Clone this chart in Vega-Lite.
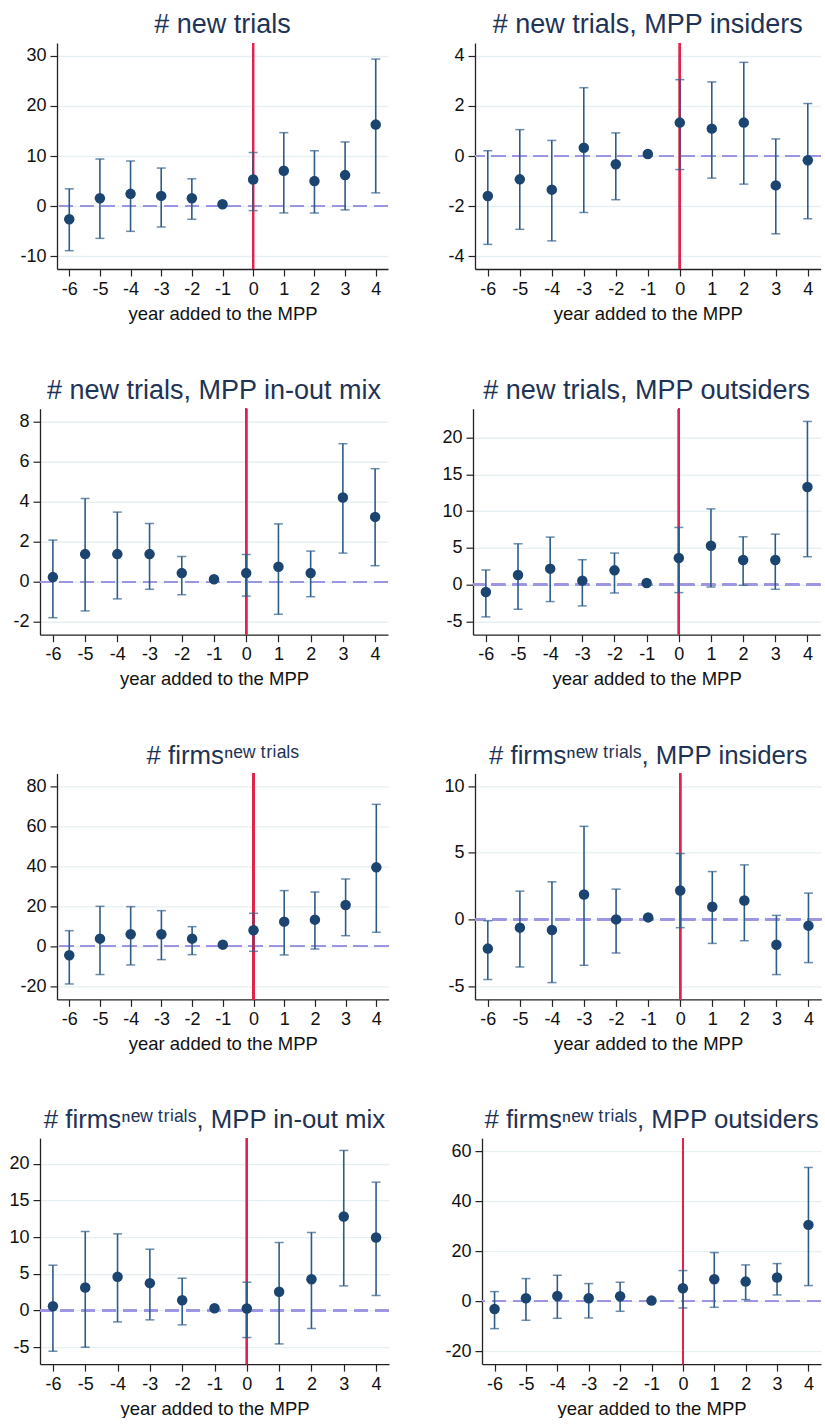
{
  "$schema": "https://vega.github.io/schema/vega-lite/v6.json",
  "padding": {"left": 5, "top": 11, "right": 0, "bottom": 0},
  "background": "white",
  "config": {
    "view": {"stroke": null},
    "font": "Liberation Sans",
    "title": {"fontSize": 27, "font": "Liberation Sans, Noto Sans", "fontWeight": "normal", "color": "#1e3355", "offset": 3, "baseline": "alphabetic", "anchor": "middle"},
    "axis": {"domainColor": "#222222", "domainWidth": 1.3, "tickColor": "#222222", "tickWidth": 1.2, "tickSize": 7, "labelColor": "#111111", "labelFont": "Liberation Sans", "labelFontSize": 18, "labelPadding": 4, "titleFont": "Liberation Sans", "titleFontSize": 18.5, "titleFontWeight": "normal", "titleColor": "#111111", "titlePadding": 6, "labelFlush": false, "labelOverlap": false},
    "axisX": {"grid": false},
    "axisY": {"grid": true, "gridColor": "#e6eff2", "gridWidth": 1.4}
  },
  "datasets": {
    "p1": [
      {"year": -6, "est": -2.6, "lo": -8.85, "hi": 3.46},
      {"year": -5, "est": 1.6, "lo": -6.4, "hi": 9.4},
      {"year": -4, "est": 2.46, "lo": -5.0, "hi": 9.0},
      {"year": -3, "est": 2.06, "lo": -4.13, "hi": 7.6},
      {"year": -2, "est": 1.6, "lo": -2.6, "hi": 5.46},
      {"year": -1, "est": 0.4, "lo": null, "hi": null},
      {"year": 0, "est": 5.33, "lo": -0.87, "hi": 10.7},
      {"year": 1, "est": 7.06, "lo": -1.33, "hi": 14.65},
      {"year": 2, "est": 5.0, "lo": -1.33, "hi": 11.05},
      {"year": 3, "est": 6.2, "lo": -0.73, "hi": 12.8},
      {"year": 4, "est": 16.25, "lo": 2.66, "hi": 29.3}
    ],
    "p2": [
      {"year": -6, "est": -1.59, "lo": -3.52, "hi": 0.21},
      {"year": -5, "est": -0.93, "lo": -2.92, "hi": 1.05},
      {"year": -4, "est": -1.34, "lo": -3.38, "hi": 0.62},
      {"year": -3, "est": 0.33, "lo": -2.25, "hi": 2.72},
      {"year": -2, "est": -0.33, "lo": -1.74, "hi": 0.92},
      {"year": -1, "est": 0.08, "lo": null, "hi": null},
      {"year": 0, "est": 1.33, "lo": -0.54, "hi": 3.04},
      {"year": 1, "est": 1.09, "lo": -0.88, "hi": 2.95},
      {"year": 2, "est": 1.33, "lo": -1.12, "hi": 3.73},
      {"year": 3, "est": -1.17, "lo": -3.1, "hi": 0.68},
      {"year": 4, "est": -0.17, "lo": -2.5, "hi": 2.09}
    ],
    "p3": [
      {"year": -6, "est": 0.23, "lo": -1.8, "hi": 2.08},
      {"year": -5, "est": 1.38, "lo": -1.46, "hi": 4.16},
      {"year": -4, "est": 1.38, "lo": -0.86, "hi": 3.48},
      {"year": -3, "est": 1.38, "lo": -0.38, "hi": 2.91},
      {"year": -2, "est": 0.43, "lo": -0.65, "hi": 1.26},
      {"year": -1, "est": 0.12, "lo": null, "hi": null},
      {"year": 0, "est": 0.43, "lo": -0.72, "hi": 1.36},
      {"year": 1, "est": 0.75, "lo": -1.63, "hi": 2.89},
      {"year": 2, "est": 0.43, "lo": -0.75, "hi": 1.53},
      {"year": 3, "est": 4.21, "lo": 1.43, "hi": 6.9},
      {"year": 4, "est": 3.24, "lo": 0.8, "hi": 5.65}
    ],
    "p4": [
      {"year": -6, "est": -0.99, "lo": -4.38, "hi": 1.99},
      {"year": -5, "est": 1.31, "lo": -3.34, "hi": 5.55},
      {"year": -4, "est": 2.17, "lo": -2.3, "hi": 6.46},
      {"year": -3, "est": 0.54, "lo": -2.89, "hi": 3.39},
      {"year": -2, "est": 1.94, "lo": -1.13, "hi": 4.29},
      {"year": -1, "est": 0.23, "lo": null, "hi": null},
      {"year": 0, "est": 3.61, "lo": -1.08, "hi": 7.77},
      {"year": 1, "est": 5.28, "lo": -0.32, "hi": 10.29},
      {"year": 2, "est": 3.34, "lo": -0.09, "hi": 6.5},
      {"year": 3, "est": 3.34, "lo": -0.63, "hi": 6.86},
      {"year": 4, "est": 13.27, "lo": 3.79, "hi": 22.17}
    ],
    "p5": [
      {"year": -6, "est": -4.49, "lo": -18.8, "hi": 7.8},
      {"year": -5, "est": 3.83, "lo": -14.1, "hi": 19.96},
      {"year": -4, "est": 5.99, "lo": -9.3, "hi": 19.8},
      {"year": -3, "est": 5.99, "lo": -6.65, "hi": 17.8},
      {"year": -2, "est": 3.83, "lo": -4.16, "hi": 9.8},
      {"year": -1, "est": 0.83, "lo": null, "hi": null},
      {"year": 0, "est": 7.98, "lo": -2.49, "hi": 16.47},
      {"year": 1, "est": 12.3, "lo": -4.3, "hi": 27.8},
      {"year": 2, "est": 13.3, "lo": -1.33, "hi": 27.1},
      {"year": 3, "est": 20.6, "lo": 5.3, "hi": 33.6},
      {"year": 4, "est": 39.4, "lo": 7.0, "hi": 70.85}
    ],
    "p6": [
      {"year": -6, "est": -2.19, "lo": -4.51, "hi": -0.1},
      {"year": -5, "est": -0.62, "lo": -3.57, "hi": 2.12},
      {"year": -4, "est": -0.8, "lo": -4.74, "hi": 2.82},
      {"year": -3, "est": 1.87, "lo": -3.44, "hi": 6.98},
      {"year": -2, "est": 0.0, "lo": -2.52, "hi": 2.27},
      {"year": -1, "est": 0.15, "lo": null, "hi": null},
      {"year": 0, "est": 2.17, "lo": -0.62, "hi": 4.94},
      {"year": 1, "est": 0.95, "lo": -1.8, "hi": 3.59},
      {"year": 2, "est": 1.42, "lo": -1.6, "hi": 4.09},
      {"year": 3, "est": -1.9, "lo": -4.14, "hi": 0.3},
      {"year": 4, "est": -0.47, "lo": -3.24, "hi": 1.97}
    ],
    "p7": [
      {"year": -6, "est": 0.59, "lo": -5.55, "hi": 6.18},
      {"year": -5, "est": 3.14, "lo": -5.0, "hi": 10.77},
      {"year": -4, "est": 4.59, "lo": -1.55, "hi": 10.45},
      {"year": -3, "est": 3.73, "lo": -1.27, "hi": 8.36},
      {"year": -2, "est": 1.41, "lo": -1.95, "hi": 4.41},
      {"year": -1, "est": 0.32, "lo": null, "hi": null},
      {"year": 0, "est": 0.27, "lo": -3.68, "hi": 3.86},
      {"year": 1, "est": 2.55, "lo": -4.55, "hi": 9.27},
      {"year": 2, "est": 4.27, "lo": -2.45, "hi": 10.64},
      {"year": 3, "est": 12.82, "lo": 3.36, "hi": 21.82},
      {"year": 4, "est": 9.95, "lo": 2.05, "hi": 17.5}
    ],
    "p8": [
      {"year": -6, "est": -3.07, "lo": -10.93, "hi": 3.87},
      {"year": -5, "est": 1.2, "lo": -7.6, "hi": 9.07},
      {"year": -4, "est": 2.13, "lo": -6.8, "hi": 10.4},
      {"year": -3, "est": 1.2, "lo": -6.67, "hi": 7.07},
      {"year": -2, "est": 2.0, "lo": -4.0, "hi": 7.6},
      {"year": -1, "est": 0.27, "lo": null, "hi": null},
      {"year": 0, "est": 5.2, "lo": -2.67, "hi": 12.27},
      {"year": 1, "est": 8.8, "lo": -2.4, "hi": 19.47},
      {"year": 2, "est": 7.87, "lo": 0.67, "hi": 14.53},
      {"year": 3, "est": 9.47, "lo": 2.53, "hi": 15.07},
      {"year": 4, "est": 30.53, "lo": 6.27, "hi": 53.47}
    ]
  },
  "spacing": 53.7,
  "vconcat": [
    {
      "spacing": 0,
      "hconcat": [
        {"width": 12, "height": 10, "data": {"values": []}, "mark": {"type": "point", "opacity": 0}},
        {
          "width": 331, "height": 226,
          "title": {"text": "# new trials"},
          "data": {"name": "p1"},
          "layer": [
            {"mark": {"type": "rule", "color": "#9d95e2", "strokeWidth": 1.6, "strokeDash": [14, 7]}, "encoding": {"y": {"datum": 0}}},
            {"mark": {"type": "rule", "color": "#e2234d", "strokeWidth": 1.8}, "encoding": {"x": {"datum": 0}}},
            {"transform": [{"filter": "datum.lo != null"}], "mark": {"type": "errorbar", "ticks": {"size": 9, "thickness": 1.5, "color": "#2e5c88"}, "rule": {"strokeWidth": 1.6, "color": "#2e5c88"}}, "encoding": {
              "x": {"field": "year", "type": "quantitative", "scale": {"domain": [-6.4, 4.4], "nice": false, "zero": false}, "axis": {"values": [-6, -5, -4, -3, -2, -1, 0, 1, 2, 3, 4], "tickCount": 11, "title": "year added to the MPP", "grid": false, "labelOverlap": false, "labelFlush": false, "labelExpr": "'' + datum.value"}},
              "y": {"field": "lo", "type": "quantitative", "scale": {"domain": [-12.5, 32.5], "nice": false, "zero": false}, "axis": {"values": [-10, 0, 10, 20, 30], "title": null, "grid": true, "labelOverlap": false, "minExtent": 40, "maxExtent": 40, "labelExpr": "'' + datum.value"}},
              "y2": {"field": "hi"}}},
            {"mark": {"type": "circle", "size": 110, "color": "#1b4570", "opacity": 1}, "encoding": {
              "x": {"field": "year", "type": "quantitative", "scale": {"domain": [-6.4, 4.4], "nice": false, "zero": false}, "axis": {"values": [-6, -5, -4, -3, -2, -1, 0, 1, 2, 3, 4], "tickCount": 11, "title": "year added to the MPP", "grid": false, "labelOverlap": false, "labelFlush": false, "labelExpr": "'' + datum.value"}},
              "y": {"field": "est", "type": "quantitative", "scale": {"domain": [-12.5, 32.5], "nice": false, "zero": false}, "axis": {"values": [-10, 0, 10, 20, 30], "title": null, "grid": true, "labelOverlap": false, "minExtent": 40, "maxExtent": 40, "labelExpr": "'' + datum.value"}}
            }}
          ]
        },
        {
          "width": 345.6, "height": 226,
          "title": {"text": "# new trials, MPP insiders"},
          "data": {"name": "p2"},
          "layer": [
            {"mark": {"type": "rule", "color": "#9d95e2", "strokeWidth": 1.6, "strokeDash": [14, 7]}, "encoding": {"y": {"datum": 0}}},
            {"mark": {"type": "rule", "color": "#e2234d", "strokeWidth": 1.8}, "encoding": {"x": {"datum": 0}}},
            {"transform": [{"filter": "datum.lo != null"}], "mark": {"type": "errorbar", "ticks": {"size": 9, "thickness": 1.5, "color": "#2e5c88"}, "rule": {"strokeWidth": 1.6, "color": "#2e5c88"}}, "encoding": {
              "x": {"field": "year", "type": "quantitative", "scale": {"domain": [-6.4, 4.4], "nice": false, "zero": false}, "axis": {"values": [-6, -5, -4, -3, -2, -1, 0, 1, 2, 3, 4], "tickCount": 11, "title": "year added to the MPP", "grid": false, "labelOverlap": false, "labelFlush": false, "labelExpr": "'' + datum.value"}},
              "y": {"field": "lo", "type": "quantitative", "scale": {"domain": [-4.5, 4.5], "nice": false, "zero": false}, "axis": {"values": [-4, -2, 0, 2, 4], "title": null, "grid": true, "labelOverlap": false, "minExtent": 85.7, "maxExtent": 85.7, "labelExpr": "'' + datum.value"}},
              "y2": {"field": "hi"}}},
            {"mark": {"type": "circle", "size": 110, "color": "#1b4570", "opacity": 1}, "encoding": {
              "x": {"field": "year", "type": "quantitative", "scale": {"domain": [-6.4, 4.4], "nice": false, "zero": false}, "axis": {"values": [-6, -5, -4, -3, -2, -1, 0, 1, 2, 3, 4], "tickCount": 11, "title": "year added to the MPP", "grid": false, "labelOverlap": false, "labelFlush": false, "labelExpr": "'' + datum.value"}},
              "y": {"field": "est", "type": "quantitative", "scale": {"domain": [-4.5, 4.5], "nice": false, "zero": false}, "axis": {"values": [-4, -2, 0, 2, 4], "title": null, "grid": true, "labelOverlap": false, "minExtent": 85.7, "maxExtent": 85.7, "labelExpr": "'' + datum.value"}}
            }}
          ]
        }
      ]
    },
    {
      "spacing": 0,
      "hconcat": [
        {"width": 2, "height": 10, "data": {"values": []}, "mark": {"type": "point", "opacity": 0}},
        {
          "width": 348, "height": 226,
          "title": {"text": "# new trials, MPP in-out mix"},
          "data": {"name": "p3"},
          "layer": [
            {"mark": {"type": "rule", "color": "#9d95e2", "strokeWidth": 1.6, "strokeDash": [14, 7]}, "encoding": {"y": {"datum": 0}}},
            {"mark": {"type": "rule", "color": "#e2234d", "strokeWidth": 1.8}, "encoding": {"x": {"datum": 0}}},
            {"transform": [{"filter": "datum.lo != null"}], "mark": {"type": "errorbar", "ticks": {"size": 9, "thickness": 1.5, "color": "#2e5c88"}, "rule": {"strokeWidth": 1.6, "color": "#2e5c88"}}, "encoding": {
              "x": {"field": "year", "type": "quantitative", "scale": {"domain": [-6.4, 4.4], "nice": false, "zero": false}, "axis": {"values": [-6, -5, -4, -3, -2, -1, 0, 1, 2, 3, 4], "tickCount": 11, "title": "year added to the MPP", "grid": false, "labelOverlap": false, "labelFlush": false, "labelExpr": "'' + datum.value"}},
              "y": {"field": "lo", "type": "quantitative", "scale": {"domain": [-2.65, 8.65], "nice": false, "zero": false}, "axis": {"values": [-2, 0, 2, 4, 6, 8], "title": null, "grid": true, "labelOverlap": false, "minExtent": 33, "maxExtent": 33, "labelExpr": "'' + datum.value"}},
              "y2": {"field": "hi"}}},
            {"mark": {"type": "circle", "size": 110, "color": "#1b4570", "opacity": 1}, "encoding": {
              "x": {"field": "year", "type": "quantitative", "scale": {"domain": [-6.4, 4.4], "nice": false, "zero": false}, "axis": {"values": [-6, -5, -4, -3, -2, -1, 0, 1, 2, 3, 4], "tickCount": 11, "title": "year added to the MPP", "grid": false, "labelOverlap": false, "labelFlush": false, "labelExpr": "'' + datum.value"}},
              "y": {"field": "est", "type": "quantitative", "scale": {"domain": [-2.65, 8.65], "nice": false, "zero": false}, "axis": {"values": [-2, 0, 2, 4, 6, 8], "title": null, "grid": true, "labelOverlap": false, "minExtent": 33, "maxExtent": 33, "labelExpr": "'' + datum.value"}}
            }}
          ]
        },
        {
          "width": 347.3, "height": 226,
          "title": {"text": "# new trials, MPP outsiders"},
          "data": {"name": "p4"},
          "layer": [
            {"mark": {"type": "rule", "color": "#9d95e2", "strokeWidth": 1.6, "strokeDash": [14, 7]}, "encoding": {"y": {"datum": 0}}},
            {"mark": {"type": "rule", "color": "#e2234d", "strokeWidth": 1.8}, "encoding": {"x": {"datum": 0}}},
            {"transform": [{"filter": "datum.lo != null"}], "mark": {"type": "errorbar", "ticks": {"size": 9, "thickness": 1.5, "color": "#2e5c88"}, "rule": {"strokeWidth": 1.6, "color": "#2e5c88"}}, "encoding": {
              "x": {"field": "year", "type": "quantitative", "scale": {"domain": [-6.4, 4.4], "nice": false, "zero": false}, "axis": {"values": [-6, -5, -4, -3, -2, -1, 0, 1, 2, 3, 4], "tickCount": 11, "title": "year added to the MPP", "grid": false, "labelOverlap": false, "labelFlush": false, "labelExpr": "'' + datum.value"}},
              "y": {"field": "lo", "type": "quantitative", "scale": {"domain": [-6.8, 23.9], "nice": false, "zero": false}, "axis": {"values": [-5, 0, 5, 10, 15, 20], "title": null, "grid": true, "labelOverlap": false, "minExtent": 84, "maxExtent": 84, "labelExpr": "'' + datum.value"}},
              "y2": {"field": "hi"}}},
            {"mark": {"type": "circle", "size": 110, "color": "#1b4570", "opacity": 1}, "encoding": {
              "x": {"field": "year", "type": "quantitative", "scale": {"domain": [-6.4, 4.4], "nice": false, "zero": false}, "axis": {"values": [-6, -5, -4, -3, -2, -1, 0, 1, 2, 3, 4], "tickCount": 11, "title": "year added to the MPP", "grid": false, "labelOverlap": false, "labelFlush": false, "labelExpr": "'' + datum.value"}},
              "y": {"field": "est", "type": "quantitative", "scale": {"domain": [-6.8, 23.9], "nice": false, "zero": false}, "axis": {"values": [-5, 0, 5, 10, 15, 20], "title": null, "grid": true, "labelOverlap": false, "minExtent": 84, "maxExtent": 84, "labelExpr": "'' + datum.value"}}
            }}
          ]
        }
      ]
    },
    {
      "spacing": 0,
      "hconcat": [
        {"width": 11.7, "height": 10, "data": {"values": []}, "mark": {"type": "point", "opacity": 0}},
        {
          "width": 331.6, "height": 226,
          "title": {"text": "# firmsⁿᵉʷ\u2009ᵗʳⁱᵃˡˢ", "fontSize": 25.8},
          "data": {"name": "p5"},
          "layer": [
            {"mark": {"type": "rule", "color": "#9d95e2", "strokeWidth": 1.6, "strokeDash": [14, 7]}, "encoding": {"y": {"datum": 0}}},
            {"mark": {"type": "rule", "color": "#e2234d", "strokeWidth": 1.8}, "encoding": {"x": {"datum": 0}}},
            {"transform": [{"filter": "datum.lo != null"}], "mark": {"type": "errorbar", "ticks": {"size": 9, "thickness": 1.5, "color": "#2e5c88"}, "rule": {"strokeWidth": 1.6, "color": "#2e5c88"}}, "encoding": {
              "x": {"field": "year", "type": "quantitative", "scale": {"domain": [-6.4, 4.4], "nice": false, "zero": false}, "axis": {"values": [-6, -5, -4, -3, -2, -1, 0, 1, 2, 3, 4], "tickCount": 11, "title": "year added to the MPP", "grid": false, "labelOverlap": false, "labelFlush": false, "labelExpr": "'' + datum.value"}},
              "y": {"field": "lo", "type": "quantitative", "scale": {"domain": [-26.5, 86.3], "nice": false, "zero": false}, "axis": {"values": [-20, 0, 20, 40, 60, 80], "title": null, "grid": true, "labelOverlap": false, "minExtent": 40, "maxExtent": 40, "labelExpr": "'' + datum.value"}},
              "y2": {"field": "hi"}}},
            {"mark": {"type": "circle", "size": 110, "color": "#1b4570", "opacity": 1}, "encoding": {
              "x": {"field": "year", "type": "quantitative", "scale": {"domain": [-6.4, 4.4], "nice": false, "zero": false}, "axis": {"values": [-6, -5, -4, -3, -2, -1, 0, 1, 2, 3, 4], "tickCount": 11, "title": "year added to the MPP", "grid": false, "labelOverlap": false, "labelFlush": false, "labelExpr": "'' + datum.value"}},
              "y": {"field": "est", "type": "quantitative", "scale": {"domain": [-26.5, 86.3], "nice": false, "zero": false}, "axis": {"values": [-20, 0, 20, 40, 60, 80], "title": null, "grid": true, "labelOverlap": false, "minExtent": 40, "maxExtent": 40, "labelExpr": "'' + datum.value"}}
            }}
          ]
        },
        {
          "width": 346.3, "height": 226,
          "title": {"text": "# firmsⁿᵉʷ\u2009ᵗʳⁱᵃˡˢ, MPP insiders", "fontSize": 25.8},
          "data": {"name": "p6"},
          "layer": [
            {"mark": {"type": "rule", "color": "#9d95e2", "strokeWidth": 1.6, "strokeDash": [14, 7]}, "encoding": {"y": {"datum": 0}}},
            {"mark": {"type": "rule", "color": "#e2234d", "strokeWidth": 1.8}, "encoding": {"x": {"datum": 0}}},
            {"transform": [{"filter": "datum.lo != null"}], "mark": {"type": "errorbar", "ticks": {"size": 9, "thickness": 1.5, "color": "#2e5c88"}, "rule": {"strokeWidth": 1.6, "color": "#2e5c88"}}, "encoding": {
              "x": {"field": "year", "type": "quantitative", "scale": {"domain": [-6.4, 4.4], "nice": false, "zero": false}, "axis": {"values": [-6, -5, -4, -3, -2, -1, 0, 1, 2, 3, 4], "tickCount": 11, "title": "year added to the MPP", "grid": false, "labelOverlap": false, "labelFlush": false, "labelExpr": "'' + datum.value"}},
              "y": {"field": "lo", "type": "quantitative", "scale": {"domain": [-6, 10.95], "nice": false, "zero": false}, "axis": {"values": [-5, 0, 5, 10], "title": null, "grid": true, "labelOverlap": false, "minExtent": 84.7, "maxExtent": 84.7, "labelExpr": "'' + datum.value"}},
              "y2": {"field": "hi"}}},
            {"mark": {"type": "circle", "size": 110, "color": "#1b4570", "opacity": 1}, "encoding": {
              "x": {"field": "year", "type": "quantitative", "scale": {"domain": [-6.4, 4.4], "nice": false, "zero": false}, "axis": {"values": [-6, -5, -4, -3, -2, -1, 0, 1, 2, 3, 4], "tickCount": 11, "title": "year added to the MPP", "grid": false, "labelOverlap": false, "labelFlush": false, "labelExpr": "'' + datum.value"}},
              "y": {"field": "est", "type": "quantitative", "scale": {"domain": [-6, 10.95], "nice": false, "zero": false}, "axis": {"values": [-5, 0, 5, 10], "title": null, "grid": true, "labelOverlap": false, "minExtent": 84.7, "maxExtent": 84.7, "labelExpr": "'' + datum.value"}}
            }}
          ]
        }
      ]
    },
    {
      "spacing": 0,
      "hconcat": [
        {"width": 1.3, "height": 10, "data": {"values": []}, "mark": {"type": "point", "opacity": 0}},
        {
          "width": 349, "height": 226,
          "title": {"text": "# firmsⁿᵉʷ\u2009ᵗʳⁱᵃˡˢ, MPP in-out mix", "fontSize": 25.8},
          "data": {"name": "p7"},
          "layer": [
            {"mark": {"type": "rule", "color": "#9d95e2", "strokeWidth": 1.6, "strokeDash": [14, 7]}, "encoding": {"y": {"datum": 0}}},
            {"mark": {"type": "rule", "color": "#e2234d", "strokeWidth": 1.8}, "encoding": {"x": {"datum": 0}}},
            {"transform": [{"filter": "datum.lo != null"}], "mark": {"type": "errorbar", "ticks": {"size": 9, "thickness": 1.5, "color": "#2e5c88"}, "rule": {"strokeWidth": 1.6, "color": "#2e5c88"}}, "encoding": {
              "x": {"field": "year", "type": "quantitative", "scale": {"domain": [-6.4, 4.4], "nice": false, "zero": false}, "axis": {"values": [-6, -5, -4, -3, -2, -1, 0, 1, 2, 3, 4], "tickCount": 11, "title": "year added to the MPP", "grid": false, "labelOverlap": false, "labelFlush": false, "labelExpr": "'' + datum.value"}},
              "y": {"field": "lo", "type": "quantitative", "scale": {"domain": [-7.3, 23.5], "nice": false, "zero": false}, "axis": {"values": [-5, 0, 5, 10, 15, 20], "title": null, "grid": true, "labelOverlap": false, "minExtent": 33, "maxExtent": 33, "labelExpr": "'' + datum.value"}},
              "y2": {"field": "hi"}}},
            {"mark": {"type": "circle", "size": 110, "color": "#1b4570", "opacity": 1}, "encoding": {
              "x": {"field": "year", "type": "quantitative", "scale": {"domain": [-6.4, 4.4], "nice": false, "zero": false}, "axis": {"values": [-6, -5, -4, -3, -2, -1, 0, 1, 2, 3, 4], "tickCount": 11, "title": "year added to the MPP", "grid": false, "labelOverlap": false, "labelFlush": false, "labelExpr": "'' + datum.value"}},
              "y": {"field": "est", "type": "quantitative", "scale": {"domain": [-7.3, 23.5], "nice": false, "zero": false}, "axis": {"values": [-5, 0, 5, 10, 15, 20], "title": null, "grid": true, "labelOverlap": false, "minExtent": 33, "maxExtent": 33, "labelExpr": "'' + datum.value"}}
            }}
          ]
        },
        {
          "width": 339, "height": 226,
          "title": {"text": "# firmsⁿᵉʷ\u2009ᵗʳⁱᵃˡˢ, MPP outsiders", "fontSize": 25.8},
          "data": {"name": "p8"},
          "layer": [
            {"mark": {"type": "rule", "color": "#9d95e2", "strokeWidth": 1.6, "strokeDash": [14, 7]}, "encoding": {"y": {"datum": 0}}},
            {"mark": {"type": "rule", "color": "#e2234d", "strokeWidth": 1.8}, "encoding": {"x": {"datum": 0}}},
            {"transform": [{"filter": "datum.lo != null"}], "mark": {"type": "errorbar", "ticks": {"size": 9, "thickness": 1.5, "color": "#2e5c88"}, "rule": {"strokeWidth": 1.6, "color": "#2e5c88"}}, "encoding": {
              "x": {"field": "year", "type": "quantitative", "scale": {"domain": [-6.4, 4.4], "nice": false, "zero": false}, "axis": {"values": [-6, -5, -4, -3, -2, -1, 0, 1, 2, 3, 4], "tickCount": 11, "title": "year added to the MPP", "grid": false, "labelOverlap": false, "labelFlush": false, "labelExpr": "'' + datum.value"}},
              "y": {"field": "lo", "type": "quantitative", "scale": {"domain": [-25.1, 65.2], "nice": false, "zero": false}, "axis": {"values": [-20, 0, 20, 40, 60], "title": null, "grid": true, "labelOverlap": false, "minExtent": 92, "maxExtent": 92, "labelExpr": "'' + datum.value"}},
              "y2": {"field": "hi"}}},
            {"mark": {"type": "circle", "size": 110, "color": "#1b4570", "opacity": 1}, "encoding": {
              "x": {"field": "year", "type": "quantitative", "scale": {"domain": [-6.4, 4.4], "nice": false, "zero": false}, "axis": {"values": [-6, -5, -4, -3, -2, -1, 0, 1, 2, 3, 4], "tickCount": 11, "title": "year added to the MPP", "grid": false, "labelOverlap": false, "labelFlush": false, "labelExpr": "'' + datum.value"}},
              "y": {"field": "est", "type": "quantitative", "scale": {"domain": [-25.1, 65.2], "nice": false, "zero": false}, "axis": {"values": [-20, 0, 20, 40, 60], "title": null, "grid": true, "labelOverlap": false, "minExtent": 92, "maxExtent": 92, "labelExpr": "'' + datum.value"}}
            }}
          ]
        }
      ]
    }
  ]
}
